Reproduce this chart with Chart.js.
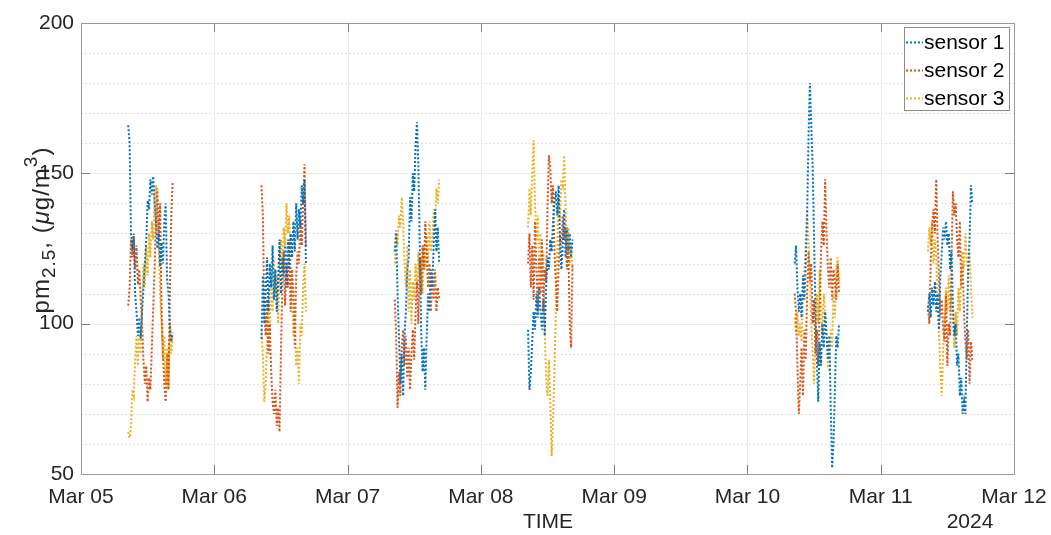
<!DOCTYPE html>
<html>
<head>
<meta charset="utf-8">
<script src="https://cdn.jsdelivr.net/npm/chart.js@4.4.1/dist/chart.umd.min.js"></script>
<style>
  body { margin: 0; background: #fff; }
  canvas { display: block; }
</style>
</head>
<body>
<canvas id="graph" width="1051" height="535"></canvas>
<script>
// x axis: days after Mar 05 00:00
const dayLabels = ['Mar 05', 'Mar 06', 'Mar 07', 'Mar 08', 'Mar 09', 'Mar 10', 'Mar 11', 'Mar 12']
const yearLabel = '2024'
const sessionDays = [0, 1, 2, 3, 5, 6]   // days with readings
const firstHour = 8.5                    // first reading of the day
const stepHour = 0.25                    // one reading every 15 min

const sensorNames = ['sensor 1', 'sensor 2', 'sensor 3']
const sensorColors = ['#0072BD', '#D95319', '#EDB120']

// pm2.5 readings, one row per session day
const sensor1 = [
    [166,160,130,126,129,110,104,96,102,95,104,112,120,128,141,138,148,143,149,140,134,125,130,119,127,120,134,140,115,110,100,94,97],
    [95,116,100,110,122,104,120,112,126,108,118,104,115,128,110,122,116,126,112,128,118,130,122,134,124,140,128,138,132,146,140,148,120],
    [124,131,110,96,80,90,76,96,104,118,122,142,134,150,144,160,167,152,126,98,84,92,78,96,110,104,118,112,126,138,124,132,120],
    [98,78,84,94,104,98,110,102,112,104,98,108,96,112,122,118,128,124,134,140,144,136,146,128,118,126,138,122,132,124,130,122,128],
    [120,126,112,104,110,102,116,108,120,136,162,180,166,152,128,104,88,74,94,86,100,92,104,96,88,96,72,52,60,78,96,92,100],
    [104,110,102,112,106,114,104,110,98,116,124,132,128,134,126,130,118,124,106,96,100,86,90,76,82,70,74,70,96,118,128,146,140]
]
const sensor2 = [
    [106,112,128,122,130,118,126,113,118,108,100,88,80,86,74,82,78,92,105,118,135,145,128,140,105,90,80,74,90,78,110,135,147],
    [146,136,104,96,108,90,100,84,74,70,78,66,72,64,90,112,124,106,120,112,128,104,118,110,92,116,124,120,134,126,140,153,126],
    [108,96,72,84,76,92,98,86,96,82,92,78,90,98,88,104,114,100,122,110,126,118,134,124,112,120,104,116,108,118,104,112,108],
    [120,130,112,126,108,134,118,104,122,110,128,104,118,114,138,156,152,140,146,124,114,104,118,130,126,136,128,132,118,126,100,92,120],
    [110,104,86,70,80,92,76,98,88,110,124,114,120,100,108,90,98,86,104,124,134,126,148,130,118,112,122,108,118,114,108,120,110],
    [106,100,120,132,138,130,148,128,114,102,108,98,94,110,86,100,96,122,144,136,140,128,122,134,112,120,104,94,88,98,80,94,88]
]
const sensor3 = [
    [64,62,66,78,76,88,96,86,98,90,108,120,112,126,116,130,122,134,128,142,146,136,125,110,100,88,96,80,92,78,100,90,96],
    [98,90,74,80,94,108,96,118,104,122,110,116,100,122,128,118,132,126,140,130,136,120,110,96,104,86,92,80,100,96,112,120,104],
    [120,130,126,136,132,142,134,120,112,126,104,118,100,114,108,120,112,124,116,122,110,126,118,130,120,134,124,128,138,130,145,140,148],
    [132,145,136,150,161,140,128,136,118,130,114,124,98,82,76,88,74,56,68,84,104,124,142,134,148,146,156,138,126,132,120,126,118],
    [102,97,104,96,100,94,110,118,126,138,128,116,100,90,80,96,110,100,118,106,96,110,102,96,86,84,98,92,110,102,118,122,114],
    [124,132,126,134,120,128,122,104,96,84,76,92,100,112,104,116,104,110,100,92,104,96,112,104,116,124,118,130,122,116,124,112,102]
]

const yMin = 50, yMax = 200, yMajor = 50, yMinor = 10
const FONT = '"Liberation Sans", Arial, Helvetica, sans-serif'
const TEXT = '#262626'
const AXIS = '#9a9a9a'

function buildPoints(rows){
    const pts = []
    rows.forEach((vals, d) => {
        vals.forEach((v, i) => pts.push({x: sessionDays[d] + (firstHour + i * stepHour) / 24, y: v}))
        pts.push({x: sessionDays[d] + 0.9, y: null})   // break between days
    })
    return pts
}

const allSensors = [sensor1, sensor2, sensor3]

const frame = {
    id: 'frame',
    beforeDatasetsDraw(chart){
        const {ctx, chartArea: a, scales: {x, y}} = chart
        ctx.save()
        ctx.lineWidth = 1
        // minor grid (dotted)
        ctx.strokeStyle = '#e2e2e2'
        ctx.setLineDash([2, 2])
        for (let v = yMin + yMinor; v < yMax; v += yMinor){
            if (v % yMajor === 0) continue
            const py = Math.round(y.getPixelForValue(v)) + 0.5
            ctx.beginPath(); ctx.moveTo(a.left, py); ctx.lineTo(a.right, py); ctx.stroke()
        }
        // major grid
        ctx.setLineDash([])
        ctx.strokeStyle = '#ebebeb'
        for (let v = yMin + yMajor; v < yMax; v += yMajor){
            const py = Math.round(y.getPixelForValue(v)) + 0.5
            ctx.beginPath(); ctx.moveTo(a.left, py); ctx.lineTo(a.right, py); ctx.stroke()
        }
        for (let d = 1; d < dayLabels.length - 1; d++){
            const px = Math.round(x.getPixelForValue(d)) + 0.5
            ctx.beginPath(); ctx.moveTo(px, a.top); ctx.lineTo(px, a.bottom); ctx.stroke()
        }
        ctx.restore()
    },
    afterDraw(chart){
        const {ctx, chartArea: a, scales: {x, y}} = chart
        ctx.save()
        // box
        ctx.strokeStyle = AXIS
        ctx.lineWidth = 1
        ctx.strokeRect(Math.round(a.left) + 0.5, Math.round(a.top) + 0.5,
            Math.round(a.right - a.left), Math.round(a.bottom - a.top))
        // inner ticks
        const tl = 9
        ctx.strokeStyle = '#808080'
        ctx.beginPath()
        for (let d = 1; d < dayLabels.length - 1; d++){
            const px = Math.round(x.getPixelForValue(d)) + 0.5
            ctx.moveTo(px, a.bottom); ctx.lineTo(px, a.bottom - tl)
            ctx.moveTo(px, a.top); ctx.lineTo(px, a.top + tl)
        }
        for (let v = yMin + yMajor; v < yMax; v += yMajor){
            const py = Math.round(y.getPixelForValue(v)) + 0.5
            ctx.moveTo(a.left, py); ctx.lineTo(a.left + tl, py)
            ctx.moveTo(a.right, py); ctx.lineTo(a.right - tl, py)
        }
        ctx.stroke()

        // x title and year
        ctx.fillStyle = TEXT
        ctx.font = '21px ' + FONT
        ctx.textAlign = 'center'
        ctx.textBaseline = 'middle'
        ctx.fillText('TIME', (a.left + a.right) / 2 + 0.5, 522)
        ctx.fillText(yearLabel, a.right - 44, 522)

        // y title with sub/superscript
        drawYTitle(ctx, 49, 230)

        // legend
        const lx = 904, ly = 27, lw = 105, lh = 83
        ctx.fillStyle = '#fff'
        ctx.fillRect(lx, ly, lw, lh)
        ctx.strokeStyle = '#8c8c8c'
        ctx.strokeRect(lx + 0.5, ly + 0.5, lw, lh)
        ctx.textAlign = 'left'
        ctx.textBaseline = 'middle'
        chart.data.datasets.forEach((ds, i) => {
            const cy = ly + 15 + i * 28
            ctx.strokeStyle = ds.borderColor
            ctx.lineWidth = 2
            ctx.setLineDash([2, 2])
            ctx.beginPath(); ctx.moveTo(lx + 2, cy + 0.5); ctx.lineTo(lx + 19, cy + 0.5); ctx.stroke()
            ctx.setLineDash([])
            ctx.fillStyle = '#000'
            ctx.fillText(ds.label, lx + 20, cy + 1)
        })
        ctx.restore()
    }
}

function drawYTitle(ctx, cx, cy){
    const parts = [
        {t: 'pm', size: 24, dy: 0},
        {t: '2.5', size: 19, dy: 6},
        {t: ', (', size: 24, dy: 0},
        {t: 'μ', size: 24, dy: 0, italic: true},
        {t: 'g/m', size: 24, dy: 0},
        {t: '3', size: 19, dy: -12},
        {t: ')', size: 24, dy: 0}
    ]
    ctx.save()
    ctx.translate(cx, cy)
    ctx.rotate(-Math.PI / 2)
    ctx.fillStyle = TEXT
    ctx.textAlign = 'left'
    ctx.textBaseline = 'alphabetic'
    ctx.letterSpacing = '1px'
    let total = 0
    parts.forEach(p => {
        ctx.font = (p.italic ? 'italic ' : '') + p.size + 'px ' + FONT
        p.w = ctx.measureText(p.t).width
        total += p.w
    })
    let pos = -total / 2
    parts.forEach(p => {
        ctx.font = (p.italic ? 'italic ' : '') + p.size + 'px ' + FONT
        ctx.fillText(p.t, pos, p.dy)
        pos += p.w
    })
    ctx.restore()
}

const ctx = document.querySelector('#graph').getContext('2d')

new Chart(ctx, {
    type: 'line',
    data: {
        datasets: allSensors.map((rows, i) => ({
            label: sensorNames[i],
            data: buildPoints(rows),
            borderColor: sensorColors[i],
            borderWidth: 2,
            borderDash: [2, 2],
            pointRadius: 0,
            tension: 0,
            spanGaps: false,
            fill: false
        }))
    },
    options: {
        responsive: false,
        animation: false,
        devicePixelRatio: 1,
        layout: {padding: {top: 23, right: 37, left: 0, bottom: 0}},
        plugins: {legend: {display: false}, tooltip: {enabled: false}},
        scales: {
            x: {
                type: 'linear', min: 0, max: dayLabels.length - 1,
                grid: {display: false, drawTicks: false}, border: {display: false},
                ticks: {
                    stepSize: 1, autoSkip: false, maxRotation: 0, padding: 11,
                    color: TEXT, font: {family: FONT, size: 21},
                    callback: v => dayLabels[v]
                },
                afterFit: s => { s.height = 61; s.paddingLeft = 0; s.paddingRight = 0 }
            },
            y: {
                min: yMin, max: yMax,
                grid: {display: false, drawTicks: false}, border: {display: false},
                ticks: {stepSize: yMajor, padding: 7, color: TEXT, font: {family: FONT, size: 21}},
                afterFit: s => { s.width = 81; s.paddingTop = 0; s.paddingBottom = 0 }
            }
        }
    },
    plugins: [frame]
})
</script>
</body>
</html>
